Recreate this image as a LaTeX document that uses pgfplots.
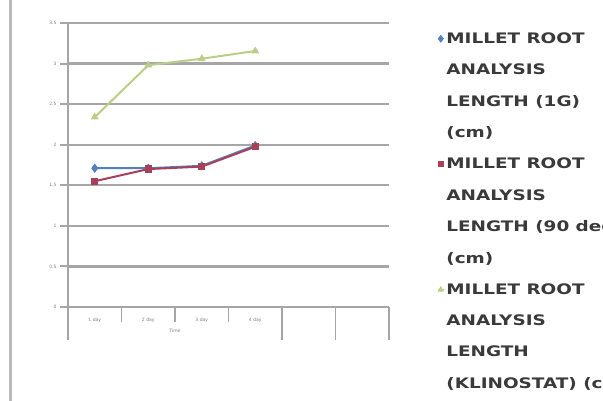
\documentclass[border=0pt]{standalone}
\usepackage{fontspec}
\setmainfont{DejaVu Sans}
\newfontfamily\legfont[FakeStretch=1.27]{DejaVu Sans}
\usepackage{pgfplots}
\pgfplotsset{compat=1.18}

\definecolor{serA}{HTML}{4F81BD}
\definecolor{serB}{HTML}{A8405A}
\definecolor{serC}{HTML}{BBCE88}
\definecolor{gridc}{HTML}{A6A6A6}
\definecolor{labc}{HTML}{7F7F7F}
\definecolor{legtext}{HTML}{3A3A3A}

\begin{document}
\begin{tikzpicture}
\path[use as bounding box, clip] (0,0) rectangle (603pt,400pt);
\fill[white] (0,0) rectangle (603pt,400pt);
% chart-area border
\draw[gray!55, line width=3pt] (10pt,-2pt) -- (10pt,402pt);

\begin{axis}[
  at={(68pt,93pt)}, anchor=south west,
  scale only axis, width=321pt, height=284pt,
  xmin=0, xmax=6, ymin=0, ymax=3.5,
  axis lines*=left,
  axis line style={gridc, line width=2pt},
  ytick={0,0.5,1,1.5,2,2.5,3,3.5},
  yticklabels={0,0.5,1,1.5,2,2.5,3,3.5},
  ymajorgrids,
  grid style={gridc, line width=2.2pt},
  major y tick style={gridc, line width=2pt},
  tick align=outside,
  major tick length=8pt,
  xtick={0.5,1.5,2.5,3.5},
  xticklabels={1 day,2 day,3 day,4 day},
  major x tick style={draw=none},
  tick label style={font=\fontsize{4.5}{5}\selectfont, text=labc},
  /pgf/number format/assume math mode=true,
  clip=false,
  legend style={
    at={(axis description cs:1.1495,0.974)}, anchor=north west,
    draw=none, fill=none, inner sep=0pt,
    row sep=15pt,
    font=\legfont\bfseries\fontsize{14.5}{15}\selectfont,
    text=legtext,
    cells={anchor=west},
  },
  legend cell align=left,
  legend image code/.code={%
    \draw[mark repeat=2, mark phase=2, line width=1.2pt, #1]
      plot coordinates {(0pt,0pt) (3pt,0pt) (6pt,0pt)};},
]
% category ticks below the axis
\draw[gridc, line width=1.6pt] (axis cs:1,0) -- ++(0pt,-15pt);
\draw[gridc, line width=1.6pt] (axis cs:2,0) -- ++(0pt,-15pt);
\draw[gridc, line width=1.6pt] (axis cs:3,0) -- ++(0pt,-15pt);
\draw[gridc, line width=1.8pt] (axis cs:0,0) -- ++(0pt,-33pt);
\draw[gridc, line width=1.8pt] (axis cs:4,0) -- ++(0pt,-33pt);
\draw[gridc, line width=1.8pt] (axis cs:5,0) -- ++(0pt,-33pt);
\draw[gridc, line width=1.8pt] (axis cs:6,0) -- ++(0pt,-33pt);
\node[font=\fontsize{4.5}{5}\selectfont, text=labc] at ([yshift=-24pt]axis cs:2,0) {Time};

\addplot[serA, line width=2pt, mark=diamond*, mark size=3pt]
  coordinates {(0.5,1.71) (1.5,1.71) (2.5,1.74) (3.5,1.99)};
\addlegendentry{MILLET ROOT}
\addlegendimage{empty legend}\addlegendentry{ANALYSIS}
\addlegendimage{empty legend}\addlegendentry{LENGTH (1G)}
\addlegendimage{empty legend}\addlegendentry{(cm)}

\addplot[serB, line width=2pt, mark=square*, mark size=2.6pt]
  coordinates {(0.5,1.55) (1.5,1.70) (2.5,1.73) (3.5,1.975)};
\addlegendentry{MILLET ROOT}
\addlegendimage{empty legend}\addlegendentry{ANALYSIS}
\addlegendimage{empty legend}\addlegendentry{LENGTH (90 deg)}
\addlegendimage{empty legend}\addlegendentry{(cm)}

\addplot[serC, line width=2pt, mark=triangle*, mark size=2.6pt]
  coordinates {(0.5,2.34) (1.5,2.98) (2.5,3.06) (3.5,3.155)};
\addlegendentry{MILLET ROOT}
\addlegendimage{empty legend}\addlegendentry{ANALYSIS}
\addlegendimage{empty legend}\addlegendentry{LENGTH}
\addlegendimage{empty legend}\addlegendentry{(KLINOSTAT) (cm)}
\end{axis}
\end{tikzpicture}
\end{document}
